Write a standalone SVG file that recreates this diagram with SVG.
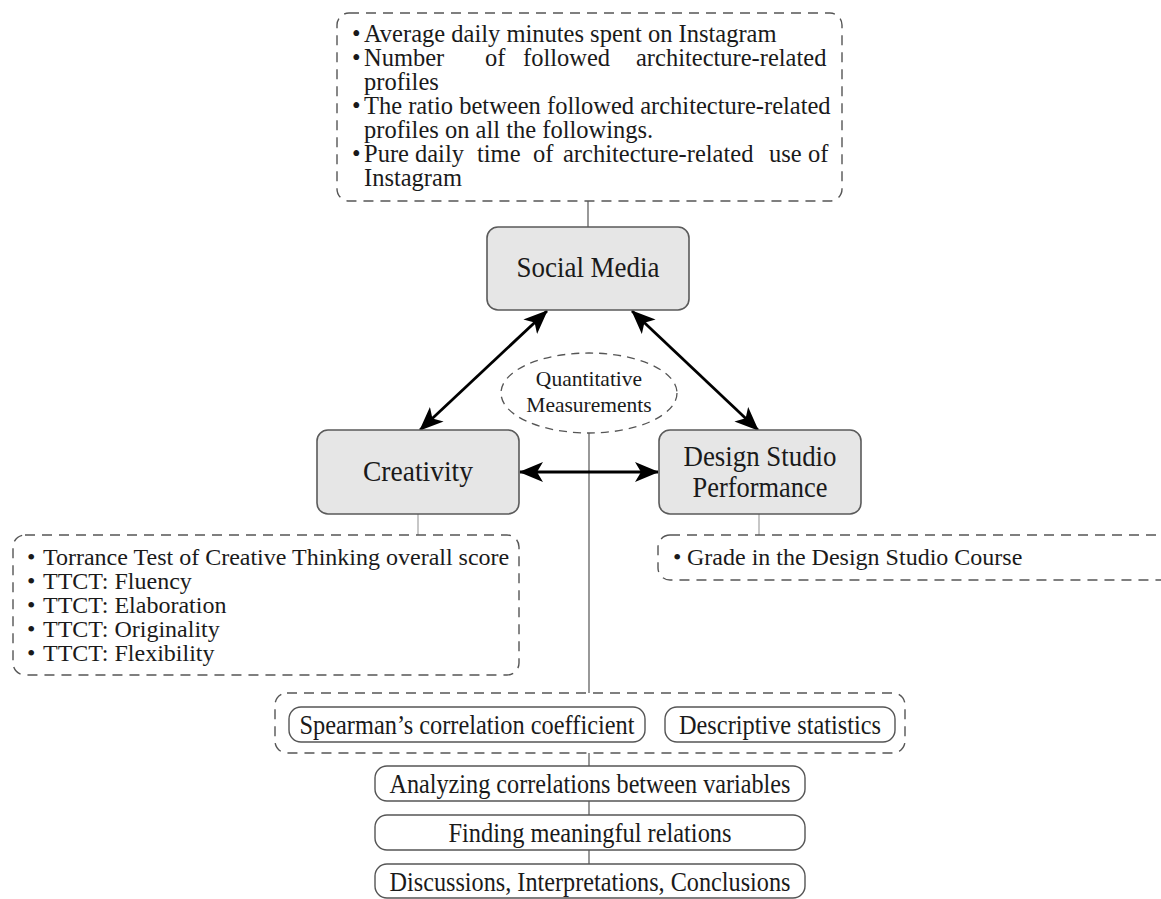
<svg xmlns="http://www.w3.org/2000/svg" width="1161" height="899" viewBox="0 0 1161 899">
<defs>
<style>
text{font-family:"Liberation Serif","Times New Roman",serif;fill:#1a1a1a}
.b{font-size:24px}
.t{font-size:24.5px}
.lbl{font-size:29px;text-anchor:middle}
.q{font-size:21.5px;text-anchor:middle}
.p{font-size:27px;text-anchor:middle}
.node{fill:#e6e6e6;stroke:#5a5a5a;stroke-width:1.6}
.dash{fill:none;stroke:#555;stroke-width:1.4;stroke-dasharray:10 7}
.pill{fill:#fff;stroke:#555;stroke-width:1.4}
.thin{stroke:#444;stroke-width:1.1;fill:none}
.light{stroke:#999;stroke-width:1.1;fill:none}
.arr{stroke:#000;stroke-width:2.8;fill:none;marker-start:url(#ah);marker-end:url(#ah)}
</style>
<marker id="ah" markerUnits="userSpaceOnUse" markerWidth="24" markerHeight="20" viewBox="0 0 24 20" refX="23" refY="10" orient="auto-start-reverse">
<path d="M0,0 L24,10 L0,20 L6,10 z" fill="#000"/>
</marker>
</defs>

<g id="connectors">
<line class="thin" x1="588" y1="201" x2="588" y2="227"/>
<line class="arr" x1="547" y1="311" x2="420" y2="430"/>
<line class="arr" x1="632" y1="311" x2="758" y2="430"/>
<line class="thin" x1="589" y1="433" x2="589" y2="693"/>
<line class="arr" x1="520" y1="472" x2="658" y2="472"/>
<line class="light" x1="418" y1="514" x2="418" y2="535"/>
<line class="light" x1="759" y1="514" x2="759" y2="535"/>
<line class="thin" x1="589" y1="753" x2="589" y2="766"/>
<line class="thin" x1="589" y1="801" x2="589" y2="815"/>
<line class="thin" x1="589" y1="850" x2="589" y2="864"/>
</g>

<g id="social-media-measures">
<rect class="dash" x="337" y="13" width="505" height="188" rx="12"/>
<text class="t">
<tspan x="352" y="41.5">•</tspan><tspan x="364" y="41.5">Average daily minutes spent on Instagram</tspan>
<tspan x="352" y="65.5">•</tspan><tspan x="364" y="65.5">Number</tspan><tspan x="485" y="65.5">of</tspan><tspan x="523" y="65.5">followed</tspan><tspan x="636" y="65.5">architecture-related</tspan>
<tspan x="364" y="89.5">profiles</tspan>
<tspan x="352" y="113.5">•</tspan><tspan x="364" y="113.5">The ratio between followed architecture-related</tspan>
<tspan x="364" y="137.5">profiles on all the followings.</tspan>
<tspan x="352" y="161.5">•</tspan><tspan x="364" y="161.5">Pure</tspan><tspan x="415" y="161.5">daily</tspan><tspan x="477" y="161.5">time</tspan><tspan x="533" y="161.5">of</tspan><tspan x="563" y="161.5">architecture-related</tspan><tspan x="769" y="161.5">use</tspan><tspan x="808" y="161.5">of</tspan>
<tspan x="364" y="185.5">Instagram</tspan>
</text>
</g>

<g id="social-media">
<rect class="node" x="487" y="227" width="202" height="83" rx="11"/>
<text class="lbl" x="588" y="277" textLength="143" lengthAdjust="spacingAndGlyphs">Social Media</text>
</g>

<g id="quantitative-measurements">
<ellipse cx="589" cy="393" rx="88" ry="40" fill="none" stroke="#555" stroke-width="1.3" stroke-dasharray="8 6"/>
<text class="q"><tspan x="589" y="386">Quantitative</tspan><tspan x="589" y="412">Measurements</tspan></text>
</g>

<g id="creativity">
<rect class="node" x="317" y="430" width="202" height="84" rx="11"/>
<text class="lbl" x="418" y="481" textLength="110" lengthAdjust="spacingAndGlyphs">Creativity</text>
</g>

<g id="design-studio">
<rect class="node" x="659" y="430" width="202" height="84" rx="11"/>
<text class="lbl" x="760" y="466" textLength="153" lengthAdjust="spacingAndGlyphs">Design Studio</text>
<text class="lbl" x="760" y="497" textLength="135" lengthAdjust="spacingAndGlyphs">Performance</text>
</g>

<g id="creativity-measures">
<rect class="dash" x="13" y="535" width="506" height="140" rx="12"/>
<text class="b">
<tspan x="27" y="565">•</tspan><tspan x="43" y="565">Torrance Test of Creative Thinking overall score</tspan>
<tspan x="27" y="589">•</tspan><tspan x="43" y="589">TTCT: Fluency</tspan>
<tspan x="27" y="613">•</tspan><tspan x="43" y="613">TTCT: Elaboration</tspan>
<tspan x="27" y="637">•</tspan><tspan x="43" y="637">TTCT: Originality</tspan>
<tspan x="27" y="661">•</tspan><tspan x="43" y="661">TTCT: Flexibility</tspan>
</text>
</g>

<g id="design-measures">
<rect class="dash" x="658" y="535" width="540" height="45" rx="12"/>
<text class="b"><tspan x="673" y="565">•</tspan><tspan x="687" y="565">Grade in the Design Studio Course</tspan></text>
</g>

<g id="methods">
<rect class="dash" x="275" y="693" width="630" height="60" rx="12"/>
<rect class="pill" x="289" y="707" width="356" height="35" rx="12"/>
<text class="p" x="467" y="734" textLength="335" lengthAdjust="spacingAndGlyphs">Spearman’s correlation coefficient</text>
<rect class="pill" x="665" y="707" width="230" height="35" rx="12"/>
<text class="p" x="780" y="734" textLength="202" lengthAdjust="spacingAndGlyphs">Descriptive statistics</text>
</g>

<g id="analyzing">
<rect class="pill" x="375" y="766" width="430" height="35" rx="12"/>
<text class="p" x="590" y="793" textLength="401" lengthAdjust="spacingAndGlyphs">Analyzing correlations between variables</text>
</g>

<g id="finding">
<rect class="pill" x="375" y="815" width="430" height="35" rx="12"/>
<text class="p" x="590" y="842" textLength="283" lengthAdjust="spacingAndGlyphs">Finding meaningful relations</text>
</g>

<g id="discussions">
<rect class="pill" x="375" y="864" width="430" height="34" rx="12"/>
<text class="p" x="590" y="891" textLength="401" lengthAdjust="spacingAndGlyphs">Discussions, Interpretations, Conclusions</text>
</g>
</svg>
